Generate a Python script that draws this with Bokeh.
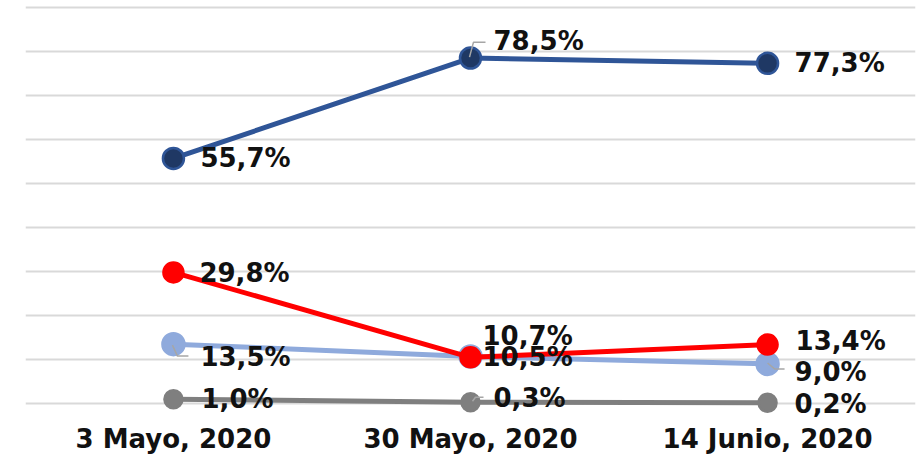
from bokeh.plotting import figure
from bokeh.models import ColumnDataSource, FixedTicker, Range1d
from bokeh.core.properties import value
from bokeh.embed import file_html
from bokeh.resources import INLINE

# ---- data ----
categories = ["3 Mayo, 2020", "30 Mayo, 2020", "14 Junio, 2020"]
serie_azul_oscuro = [55.7, 78.5, 77.3]
serie_roja = [29.8, 10.5, 13.4]
serie_azul_claro = [13.5, 10.7, 9.0]
serie_gris = [1.0, 0.3, 0.2]
y_grid_ticks = [0, 10, 20, 30, 40, 50, 60, 70, 80, 90]

# ---- layout ----
W, H = 919, 456
LEFT, RIGHT, BOTTOM = 25, 4, 33
X0, X1 = -0.498, 2.498
Y1 = 91.583
Y0 = Y1 - (H - BOTTOM) / 4.422
px_per_x = (W - LEFT - RIGHT) / (X1 - X0)
px_per_y = (H - BOTTOM) / (Y1 - Y0)

xs = list(range(len(categories)))

p = figure(width=W, height=H, output_backend="svg", toolbar_location=None,
           x_range=Range1d(X0, X1), y_range=Range1d(Y0, Y1),
           y_axis_location=None,
           min_border_left=LEFT, min_border_right=RIGHT, min_border_top=0,
           min_border_bottom=BOTTOM)
p.outline_line_color = None
p.background_fill_color = "white"
p.border_fill_color = "white"

p.xgrid.visible = False
p.ygrid.ticker = FixedTicker(ticks=y_grid_ticks)
p.ygrid.grid_line_color = "#d9d9d9"
p.ygrid.grid_line_width = 2

ax = p.xaxis[0]
ax.ticker = FixedTicker(ticks=xs)
ax.major_label_overrides = {i: c for i, c in zip(xs, categories)}
ax.axis_line_color = None
ax.major_tick_line_color = None
ax.minor_tick_line_color = None
ax.major_tick_out = 0
ax.major_tick_in = 0
ax.major_label_standoff = 2
ax.major_label_text_font = "DejaVu Sans"
ax.major_label_text_font_style = "bold"
ax.major_label_text_font_size = "26px"
ax.major_label_text_color = "#111111"

series = [
    # values, line color, marker fill, marker line, marker size
    (serie_gris, "#7f7f7f", "#7f7f7f", "#7f7f7f", 18),
    (serie_azul_claro, "#8faadc", "#8faadc", "#8faadc", 22),
    (serie_roja, "#ff0000", "#ff0000", "#ff0000", 20),
    (serie_azul_oscuro, "#2f5597", "#1f3864", "#2f5597", 21),
]
for vals, lc, fc, mc, sz in series:
    p.line(xs, vals, line_color=lc, line_width=5)
    p.scatter(xs, vals, size=sz, fill_color=fc, line_color=mc, line_width=2.5)

# ---- leader lines (pixel offsets relative to point) ----
leaders = [
    (serie_azul_oscuro, 1, [(-1, -1), (3, -16), (15, -16)]),
    (serie_azul_claro, 0, [(-1, 1), (4, 12), (15, 12)]),
    (serie_gris, 1, [(2, -1), (5, -5), (13, -5)]),
    (serie_azul_claro, 2, [(0, -1), (7, 5), (17, 5)]),
]
lx, ly = [], []
for vals, i, pts in leaders:
    lx.append([xs[i] + dx / px_per_x for dx, dy in pts])
    ly.append([vals[i] - dy / px_per_y for dx, dy in pts])
p.multi_line(lx, ly, line_color="#a6a6a6", line_width=1.5)

# ---- data labels ----
def fmt(v):
    return f"{v:.1f}".replace(".", ",") + "%"

label_offsets = {
    "oscuro": [(27, 0), (23, -17), (27, 0)],
    "roja": [(26, 1), (12, 0), (28, -4)],
    "claro": [(27, 13), (12, -20), (27, 8)],
    "gris": [(28, 0), (23, -4), (27, 1)],
}
lab = dict(x=[], y=[], text=[], dx=[], dy=[])
for key, vals in [("oscuro", serie_azul_oscuro), ("roja", serie_roja),
                  ("claro", serie_azul_claro), ("gris", serie_gris)]:
    for i, v in enumerate(vals):
        lab["x"].append(xs[i])
        lab["y"].append(v)
        lab["text"].append(fmt(v))
        lab["dx"].append(label_offsets[key][i][0])
        lab["dy"].append(label_offsets[key][i][1])
src = ColumnDataSource(lab)
p.text(x="x", y="y", text="text", x_offset="dx", y_offset="dy", source=src,
       text_font=value("DejaVu Sans"), text_font_style="bold",
       text_font_size="26px", text_color="#111111",
       text_align="left", text_baseline="middle")

open("out.html", "w").write(file_html(p, INLINE))
